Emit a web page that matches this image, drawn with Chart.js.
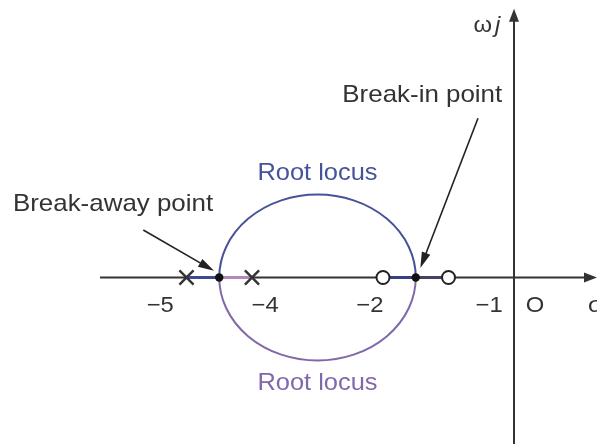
<!DOCTYPE html>
<html>
<head>
<meta charset="utf-8">
<script src="https://cdn.jsdelivr.net/npm/chart.js@4/dist/chart.umd.min.js"></script>
<style>
  html, body { margin: 0; padding: 0; background: #ffffff; }
  #wrap { width: 597px; height: 444px; position: relative; }
</style>
</head>
<body>
<div id="wrap"><canvas id="locus"></canvas></div>
<script>
// Open-loop poles and zeros on the real axis (σ)
const poles = [-5, -4];
const zeros = [-2, -1];
// Break-away and break-in points of the locus
const breakAway = -4.5;
const breakIn = -1.5;
// Complex part of the locus: a circle in the s-plane
const locusCenter = -3;
const locusRadius = 1.5;
// Real-axis tick labels
const tickValues = [-5, -4, -2, -1];
const tickLabels = ['\u22125', '\u22124', '\u22122', '\u22121'];

const BLUE = '#46539a';
const PURPLE = '#8068ab';
const INK = '#333333';
const FONT = '"Liberation Sans", Arial, Helvetica, sans-serif';

function seg(a, b) { return [{ x: a, y: 0 }, { x: b, y: 0 }]; }

// Placement of the annotations in data units (σ, jω)
const notes = {
  tickAnchors: [-5.40, -3.80, -2.20, -0.38],
  tickBaseline: -0.62,
  origin: { x: 0.32, y: -0.62 },
  sigma: { x: 1.13, y: -0.62 },
  omega: { x: -0.21, y: 4.44 },
  breakAwayText: { x: -7.65, y: 1.20 },
  breakInText: { x: -0.18, y: 3.17 },
  locusUpper: { x: -3, y: 1.76 },
  locusLower: { x: -3, y: -2.03 },
  breakAwayArrow: { from: { x: -5.66, y: 0.86 }, to: { x: -4.58, y: 0.12 } },
  breakInArrow: { from: { x: -0.55, y: 2.88 }, to: { x: -1.43, y: 0.17 } }
};

function drawArrowHead(ctx, x1, y1, x2, y2, len, half, color) {
  const ang = Math.atan2(y2 - y1, x2 - x1);
  ctx.save();
  ctx.fillStyle = color;
  ctx.beginPath();
  ctx.moveTo(x2, y2);
  ctx.lineTo(x2 - len * Math.cos(ang) + half * Math.sin(ang), y2 - len * Math.sin(ang) - half * Math.cos(ang));
  ctx.lineTo(x2 - len * Math.cos(ang) - half * Math.sin(ang), y2 - len * Math.sin(ang) + half * Math.cos(ang));
  ctx.closePath();
  ctx.fill();
  ctx.restore();
}

function text(ctx, str, x, y, align, color, size, italic, stretch) {
  ctx.save();
  ctx.font = (italic ? 'italic ' : '') + size + 'px ' + FONT;
  ctx.fillStyle = color;
  ctx.textBaseline = 'alphabetic';
  const w = ctx.measureText(str).width * stretch;
  let left = x;
  if (align === 'center') left = x - w / 2;
  else if (align === 'right') left = x - w;
  ctx.translate(left, y);
  ctx.scale(stretch, 1);
  ctx.textAlign = 'left';
  ctx.fillText(str, 0, 0);
  ctx.restore();
  return w;
}

// Circle part of the locus, drawn through the chart scales
const locusArcs = {
  id: 'locusArcs',
  beforeDatasetsDraw(chart) {
    const { ctx, scales: { x, y } } = chart;
    const cx = x.getPixelForValue(locusCenter);
    const cy = y.getPixelForValue(0);
    const rx = Math.abs(x.getPixelForValue(locusCenter + locusRadius) - cx);
    const ry = Math.abs(y.getPixelForValue(locusRadius) - cy);
    ctx.save();
    ctx.lineWidth = 2;
    ctx.strokeStyle = BLUE;
    ctx.beginPath();
    ctx.ellipse(cx, cy, rx, ry, 0, Math.PI, 2 * Math.PI);
    ctx.stroke();
    ctx.strokeStyle = PURPLE;
    ctx.beginPath();
    ctx.ellipse(cx, cy, rx, ry, 0, 0, Math.PI);
    ctx.stroke();
    ctx.restore();
  }
};

// Axis arrowheads, labels and the callout arrows
const annotations = {
  id: 'annotations',
  afterDatasetsDraw(chart) {
    const { ctx, scales: { x, y } } = chart;
    const px = v => x.getPixelForValue(v);
    const py = v => y.getPixelForValue(v);

    // axis arrowheads
    drawArrowHead(ctx, px(0), py(0), px(x.max), py(0), 13, 5, INK);
    drawArrowHead(ctx, px(0), py(0), px(0), py(4.86), 13, 5, INK);

    // tick labels
    tickLabels.forEach((t, i) => {
      text(ctx, t, px(notes.tickAnchors[i]), py(notes.tickBaseline), 'center', INK, 22, false, 1.08);
    });
    text(ctx, 'O', px(notes.origin.x), py(notes.origin.y), 'center', INK, 22, false, 1.08);
    text(ctx, '\u03c3', px(notes.sigma.x), py(notes.sigma.y), 'left', INK, 22, false, 1.08);

    // imaginary axis label
    const jw = text(ctx, 'j', px(notes.omega.x), py(notes.omega.y), 'right', INK, 22, true, 1.08);
    text(ctx, '\u03c9', px(notes.omega.x) - jw - 3, py(notes.omega.y), 'right', INK, 22, false, 1.08);

    // callouts
    text(ctx, 'Break-away point', px(notes.breakAwayText.x), py(notes.breakAwayText.y), 'left', INK, 24, false, 1.08);
    text(ctx, 'Break-in point', px(notes.breakInText.x), py(notes.breakInText.y), 'right', INK, 24, false, 1.08);
    text(ctx, 'Root locus', px(notes.locusUpper.x), py(notes.locusUpper.y), 'center', BLUE, 24, false, 1.06);
    text(ctx, 'Root locus', px(notes.locusLower.x), py(notes.locusLower.y), 'center', PURPLE, 24, false, 1.06);

    [notes.breakAwayArrow, notes.breakInArrow].forEach(a => {
      const x1 = px(a.from.x), y1 = py(a.from.y), x2 = px(a.to.x), y2 = py(a.to.y);
      ctx.save();
      ctx.strokeStyle = '#222222';
      ctx.lineWidth = 1.6;
      const ang = Math.atan2(y2 - y1, x2 - x1);
      ctx.beginPath();
      ctx.moveTo(x1, y1);
      ctx.lineTo(x2 - 10 * Math.cos(ang), y2 - 10 * Math.sin(ang));
      ctx.stroke();
      ctx.restore();
      drawArrowHead(ctx, x1, y1, x2, y2, 16, 4.5, '#222222');
    });
  }
};

const lineDs = (data, color, width, order) => ({
  data, showLine: true, borderColor: color, borderWidth: width,
  pointRadius: 0, fill: false, order
});

new Chart(document.getElementById('locus'), {
  type: 'scatter',
  data: {
    datasets: [
      // break points
      { data: [{ x: breakAway, y: 0 }, { x: breakIn, y: 0 }], pointStyle: 'circle',
        pointRadius: 4.2, backgroundColor: '#111111', borderColor: '#111111', borderWidth: 0, order: 1 },
      // zeros
      { data: zeros.map(v => ({ x: v, y: 0 })), pointStyle: 'circle',
        pointRadius: 6.5, backgroundColor: '#ffffff', borderColor: '#222222', borderWidth: 2, order: 2 },
      // poles
      { data: poles.map(v => ({ x: v, y: 0 })), pointStyle: 'crossRot',
        pointRadius: 10, borderColor: '#333333', borderWidth: 2.4, order: 3 },
      // real-axis branches of the locus
      lineDs(seg(poles[0], breakAway), '#3d4a92', 3, 4),
      lineDs(seg(breakAway, poles[1]), '#b48ab8', 3, 4),
      lineDs(seg(zeros[0], breakIn), '#383f82', 3, 4),
      lineDs(seg(breakIn, zeros[1]), '#4b3f66', 3, 4),
      // s-plane axes
      lineDs(seg(-6.32, 1.2), INK, 2, 6),
      lineDs([{ x: 0, y: -3.2 }, { x: 0, y: 4.75 }], INK, 2, 6)
    ]
  },
  options: {
    responsive: true,
    maintainAspectRatio: false,
    animation: false,
    events: [],
    layout: { padding: 0, autoPadding: false },
    plugins: { legend: { display: false }, tooltip: { enabled: false } },
    scales: {
      x: { type: 'linear', display: false, min: -7.847, max: 1.267 },
      y: { type: 'linear', display: false, min: -3.011, max: 5.018 }
    }
  },
  plugins: [locusArcs, annotations]
});
</script>
</body>
</html>
